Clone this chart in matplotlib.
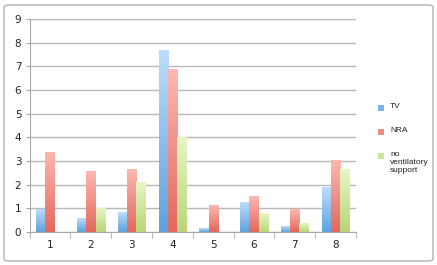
import matplotlib
matplotlib.use("Agg")
import matplotlib.pyplot as plt
import numpy as np
from matplotlib.patches import FancyBboxPatch, Rectangle
from matplotlib.colors import LinearSegmentedColormap

categories = ["1", "2", "3", "4", "5", "6", "7", "8"]
tv = [0.93, 0.59, 0.82, 7.65, 0.15, 1.24, 0.24, 1.89]
nra = [3.37, 2.56, 2.66, 6.85, 1.11, 1.52, 0.97, 3.01]
no_vent = [0.0, 1.01, 2.08, 3.99, 0.0, 0.77, 0.34, 2.62]
series_names = ["TV", "NRA", "no\nventilatory\nsupport"]

grad = [("#5fa2dd", "#bcdcfb"), ("#e3685d", "#fcb8b0"), ("#b8d679", "#e8f6c4")]
legend_colors = ["#7db4e9", "#ee8d84", "#cde59b"]

fig = plt.figure(figsize=(4.37, 2.65), dpi=100)
fig.patch.set_facecolor("white")
fig.patches.append(FancyBboxPatch((4/437, 4/265), 429/437, 256/265,
                                  boxstyle="round,pad=0,rounding_size=0.01",
                                  transform=fig.transFigure, fill=False,
                                  edgecolor="#b0b0b0", linewidth=1.0))
ax = fig.add_axes([29.7/437, 33/265, 326.3/437, 213/265])

x = np.arange(1, len(categories) + 1)
w = 0.228
gimg = np.linspace(0, 1, 100).reshape(-1, 1)
for i, (vals, (c0, c1)) in enumerate(zip([tv, nra, no_vent], grad)):
    cmap = LinearSegmentedColormap.from_list(f"g{i}", [c0, c1])
    bars = ax.bar(x + (i - 1) * w, vals, width=w, color="none", edgecolor="none", zorder=3)
    for b in bars:
        h = b.get_height()
        if h <= 0:
            continue
        bx = b.get_x()
        im = ax.imshow(gimg, cmap=cmap, origin="lower", aspect="auto",
                       extent=(bx, bx + b.get_width(), 0, h), zorder=3,
                       interpolation="bilinear")

ax.set_xlim(0.5, 8.5)
ax.set_ylim(0, 9)
ax.set_yticks(range(0, 10))
ax.yaxis.grid(True, color="#b8b8b8", linewidth=1.0, zorder=0)
ax.set_axisbelow(True)
for s in ["top", "right"]:
    ax.spines[s].set_visible(False)
ax.spines["left"].set_color("#a8a8a8")
ax.spines["bottom"].set_color("#a8a8a8")
ax.set_xticks(x)
ax.set_xticklabels(categories, fontsize=7.5, color="#222222")
ax.tick_params(axis="x", length=0, pad=6)
ax.set_xticks(np.arange(0.5, 9.0, 1.0), minor=True)
ax.tick_params(axis="x", which="minor", length=4, color="#a8a8a8", direction="out")
ax.tick_params(axis="y", labelsize=7.5, labelcolor="#222222", length=3, color="#a8a8a8", pad=3)

# legend drawn manually in figure pixels
leg_y = [107.5, 131.5, 155.5]
for name, col, yy in zip(series_names, legend_colors, leg_y):
    fig.patches.append(Rectangle((377.5/437, 1 - (yy + 3)/265), 6/437, 6/265,
                                 transform=fig.transFigure, facecolor=col,
                                 edgecolor="none"))
    fig.text(390/437, 1 - (yy - 4.5)/265, name, fontsize=6, family="Liberation Sans",
             va="top", ha="left", color="#222222", linespacing=1.25)

fig.savefig("out.png", dpi=100)
